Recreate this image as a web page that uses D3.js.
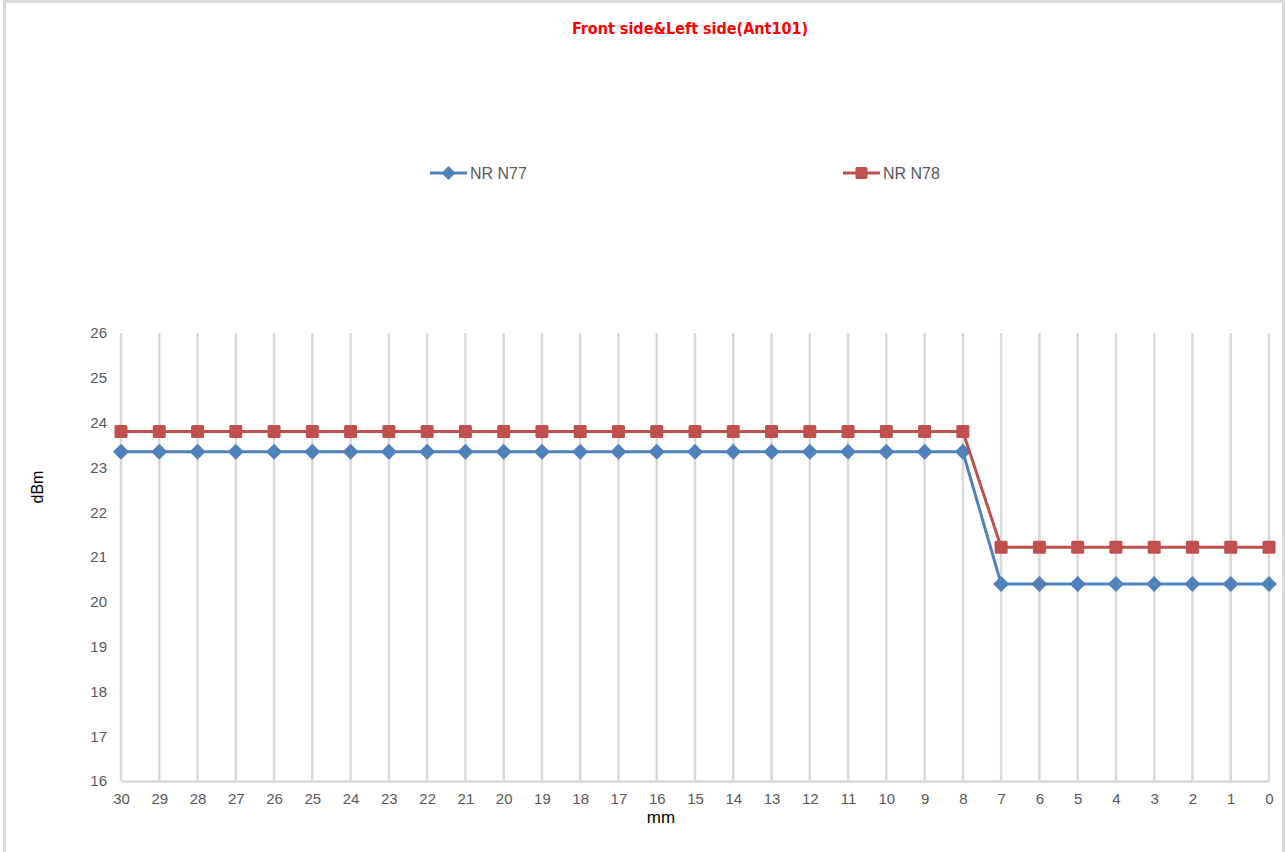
<!DOCTYPE html>
<html>
<head>
<meta charset="utf-8">
<script src="https://cdn.jsdelivr.net/npm/d3@7"></script>
<style>
  html, body { margin: 0; padding: 0; background: #fff; }
  svg { display: block; }
</style>
</head>
<body>
<svg id="chart" width="1286" height="852"></svg>
<script>
// Distance from the antenna, mm (plotted from 30 down to 0)
const distances = ["30","29","28","27","26","25","24","23","22","21","20","19","18","17","16","15","14","13","12","11","10","9","8","7","6","5","4","3","2","1","0"];

// Conducted power, dBm
const nrN77 = [23.35,23.35,23.35,23.35,23.35,23.35,23.35,23.35,23.35,23.35,23.35,23.35,23.35,23.35,23.35,23.35,23.35,23.35,23.35,23.35,23.35,23.35,23.35,20.4,20.4,20.4,20.4,20.4,20.4,20.4,20.4];
const nrN78 = [23.8,23.8,23.8,23.8,23.8,23.8,23.8,23.8,23.8,23.8,23.8,23.8,23.8,23.8,23.8,23.8,23.8,23.8,23.8,23.8,23.8,23.8,23.8,21.22,21.22,21.22,21.22,21.22,21.22,21.22,21.22];

const yTicks = [16,17,18,19,20,21,22,23,24,25,26];

const seriesNames = ["NR N77", "NR N78"];
const seriesColors = ["#4f81bd", "#c0504d"];

const svg = d3.select("#chart");

// Chart frame
svg.append("rect")
  .attr("x", 4.5).attr("y", 1.5)
  .attr("width", 1279).attr("height", 870)
  .attr("fill", "none")
  .attr("stroke", "#d9d9d9")
  .attr("stroke-width", 3);

const plot = { left: 121, right: 1269, top: 333, bottom: 781 };

const x = d3.scalePoint().domain(distances).range([plot.left, plot.right]);
const y = d3.scaleLinear().domain([16, 26]).range([plot.bottom, plot.top]);

const font = "'Liberation Sans', Arial, sans-serif";

// Vertical gridlines at each category
svg.append("g").selectAll("line")
  .data(distances)
  .join("line")
  .attr("x1", d => x(d)).attr("x2", d => x(d))
  .attr("y1", plot.top).attr("y2", plot.bottom)
  .attr("stroke", "#d9d9d9")
  .attr("stroke-width", 2.5);

// Category axis
const xAxis = svg.append("g")
  .attr("transform", `translate(0,${plot.bottom})`)
  .call(d3.axisBottom(x).tickSize(0).tickPadding(12));
xAxis.select(".domain").attr("stroke", "#d9d9d9").attr("stroke-width", 2.5);
xAxis.selectAll("text")
  .attr("fill", "#595959")
  .style("font-family", font)
  .style("font-size", "15px");

// Value axis
const yAxis = svg.append("g")
  .attr("transform", `translate(${plot.left},0)`)
  .call(d3.axisLeft(y).tickValues(yTicks).tickFormat(d3.format("d")).tickSize(0).tickPadding(14));
yAxis.select(".domain").remove();
yAxis.selectAll("text")
  .attr("fill", "#595959")
  .style("font-family", font)
  .style("font-size", "15px");

// Axis titles
svg.append("text")
  .attr("x", 661)
  .attr("y", 823)
  .attr("text-anchor", "middle")
  .attr("fill", "#000")
  .style("font-family", font)
  .style("font-size", "17px")
  .text("mm");

svg.append("text")
  .attr("transform", "translate(43,487) rotate(-90)")
  .attr("text-anchor", "middle")
  .attr("fill", "#000")
  .style("font-family", font)
  .style("font-size", "16px")
  .text("dBm");

// Title
svg.append("text")
  .attr("x", 690)
  .attr("y", 34)
  .attr("text-anchor", "middle")
  .attr("fill", "#ff0000")
  .style("font-family", "'DejaVu Sans Condensed', 'DejaVu Sans', sans-serif")
  .style("font-weight", "bold")
  .style("font-size", "16px")
  .text("Front side&Left side(Ant101)");

function diamondPath(s) {
  return `M0,${-s}L${s},0L0,${s}L${-s},0Z`;
}

const series = [nrN77, nrN78];
const line = d3.line().x((d, i) => x(distances[i])).y(d => y(d));

series.forEach((vals, si) => {
  const g = svg.append("g");
  g.append("path")
    .datum(vals)
    .attr("d", line)
    .attr("fill", "none")
    .attr("stroke", seriesColors[si])
    .attr("stroke-width", 3)
    .attr("stroke-linejoin", "round");
  if (si === 0) {
    g.selectAll("path.m")
      .data(vals)
      .join("path")
      .attr("class", "m")
      .attr("transform", (d, i) => `translate(${x(distances[i])},${y(d)})`)
      .attr("d", diamondPath(8))
      .attr("fill", seriesColors[si]);
  } else {
    g.selectAll("rect.m")
      .data(vals)
      .join("rect")
      .attr("class", "m")
      .attr("x", (d, i) => x(distances[i]) - 6.5)
      .attr("y", d => y(d) - 6.5)
      .attr("width", 13).attr("height", 13)
      .attr("rx", 1.5)
      .attr("fill", seriesColors[si]);
  }
});

// Legend
const legendItems = [
  { name: seriesNames[0], color: seriesColors[0], x0: 430, shape: "diamond" },
  { name: seriesNames[1], color: seriesColors[1], x0: 843, shape: "square" }
];
const ly = 173;
legendItems.forEach(item => {
  const g = svg.append("g");
  g.append("line")
    .attr("x1", item.x0).attr("x2", item.x0 + 37)
    .attr("y1", ly).attr("y2", ly)
    .attr("stroke", item.color).attr("stroke-width", 3);
  if (item.shape === "diamond") {
    g.append("path")
      .attr("transform", `translate(${item.x0 + 18.5},${ly})`)
      .attr("d", diamondPath(7))
      .attr("fill", item.color);
  } else {
    g.append("rect")
      .attr("x", item.x0 + 18.5 - 6).attr("y", ly - 6)
      .attr("width", 12).attr("height", 12)
      .attr("rx", 1.5)
      .attr("fill", item.color);
  }
  g.append("text")
    .attr("x", item.x0 + 40)
    .attr("y", ly + 6)
    .attr("fill", "#595959")
    .style("font-family", font)
    .style("font-size", "16px")
    .text(item.name);
});
</script>
</body>
</html>
